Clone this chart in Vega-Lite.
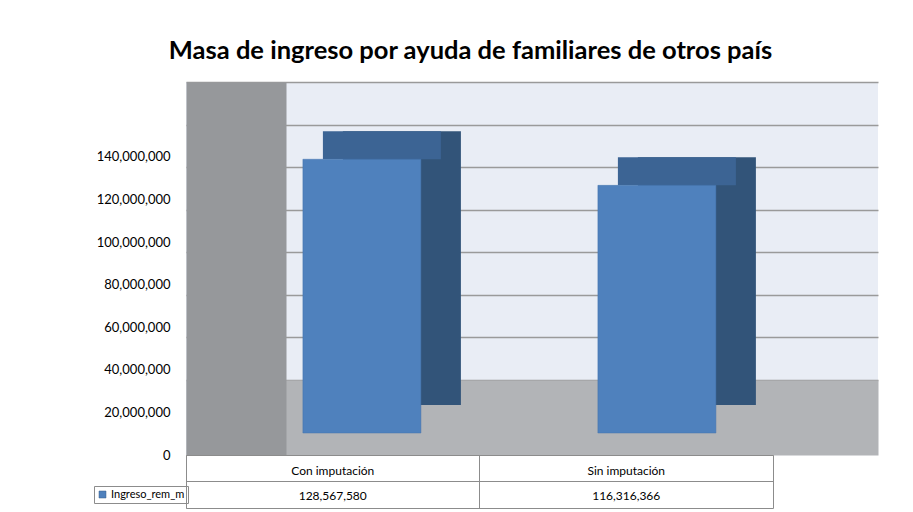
{
  "$schema": "https://vega.github.io/schema/vega-lite/v6.json",
  "padding": {"left": 93, "top": 38, "right": 5, "bottom": 2},
  "background": "white",
  "config": {"font": "Lato", "view": {"stroke": null}},
  "title": {"text": "Masa de ingreso por ayuda de familiares de otros país", "fontSize": 25.5, "font": "Lato", "fontWeight": "bold", "color": "#000000", "anchor": "middle", "dx": -15, "offset": 18},
  "data": {"values": [
    {"cat": "Con imputación", "value": 128567580},
    {"cat": "Sin imputación", "value": 116316366}
  ]},
  "spacing": 0,
  "bounds": "flush",
  "resolve": {"scale": {"x": "independent", "color": "independent"}},
  "vconcat": [
    {
      "width": 692,
      "height": 373,
      "view": {"fill": "#E9EDF5", "stroke": null},
      "encoding": {
        "x": {"field": "cat", "type": "nominal", "sort": null,
          "scale": {"type": "band", "paddingInner": 0.6, "paddingOuter": 0.4729, "align": 0.419},
          "axis": {"labels": false, "ticks": false, "title": null, "grid": false, "domain": true, "domainColor": "#B2B4B7", "domainWidth": 75, "offset": -37.5, "minExtent": 0, "maxExtent": 0, "zindex": 0}}
      },
      "layer": [
        {
          "mark": {"type": "bar", "opacity": 0},
          "encoding": {
            "y": {"field": "value", "type": "quantitative",
              "scale": {"domain": [-35200000, 140000000], "nice": false, "zero": false},
              "axis": {"orient": "right", "title": null, "labels": false, "ticks": false, "domain": false, "grid": true, "gridColor": "#9A9A9A", "gridWidth": 1.5, "values": [0, 20000000, 40000000, 60000000, 80000000, 100000000, 120000000, 140000000], "zindex": 0}}
          }
        },
        {
          "encoding": {
            "y": {"field": "value", "type": "quantitative",
              "scale": {"domain": [0, 175200000], "nice": false},
              "axis": {"orient": "left", "title": null, "format": ",d", "values": [0, 20000000, 40000000, 60000000, 80000000, 100000000, 120000000, 140000000], "ticks": false, "tickSize": 0, "labelPadding": 66, "labelFontSize": 13, "labelColor": "#000000", "labelFont": "Lato", "grid": false, "domain": true, "domainColor": "#96989B", "domainWidth": 100, "offset": -50, "zindex": 1}}
          },
          "layer": [
            {
              "mark": {"type": "bar", "color": "#325479", "xOffset": 40, "yOffset": -50, "y2Offset": -50},
              "encoding": {"y2": {"datum": 0}}
            },
            {
              "mark": {"type": "bar", "color": "#3C6494", "xOffset": 20, "yOffset": -50, "y2Offset": -22},
              "encoding": {"y2": {"field": "value"}}
            },
            {
              "mark": {"type": "bar", "color": "#4F81BD", "stroke": "#4574AD", "strokeWidth": 0.5, "yOffset": -22, "y2Offset": -22},
              "encoding": {"y2": {"datum": 0}}
            }
          ]
        }
      ],
      "resolve": {"scale": {"y": "independent"}}
    },
    {
      "width": 587,
      "height": 53,
      "view": {"stroke": "#8C8C8C", "strokeWidth": 1, "fill": "white"},
      "encoding": {
        "x": {"field": "cat", "type": "nominal", "sort": null,
          "scale": {"type": "band", "paddingInner": 0, "paddingOuter": 0},
          "axis": {"labels": false, "ticks": false, "title": null, "domain": false, "grid": true, "bandPosition": 0, "gridColor": "#8C8C8C", "gridWidth": 1}}
      },
      "layer": [
        {
          "mark": {"type": "text", "fontSize": 12, "font": "Lato", "color": "#000000", "dy": 3},
          "encoding": {
            "y": {"datum": "h", "type": "nominal",
              "scale": {"type": "band", "domain": ["h", "v"], "paddingInner": 0, "paddingOuter": 0},
              "axis": {"labels": false, "ticks": false, "title": null, "domain": false, "grid": true, "bandPosition": 0, "gridColor": "#8C8C8C"}},
            "text": {"field": "cat"}
          }
        },
        {
          "mark": {"type": "text", "fontSize": 12, "font": "Lato", "color": "#000000", "dy": 1},
          "encoding": {
            "y": {"datum": "v", "type": "nominal"},
            "text": {"field": "value", "type": "quantitative", "format": ",d"}
          }
        },
        {
          "mark": {"type": "point", "shape": "square", "filled": true, "opacity": 0},
          "encoding": {
            "y": {"datum": "v", "type": "nominal"},
            "color": {"datum": "Ingreso_rem_m", "type": "nominal",
              "scale": {"range": ["#4F81BD"]},
              "legend": {"orient": "none", "legendX": -92, "legendY": 31, "title": null, "symbolType": "square", "symbolSize": 49, "symbolOpacity": 1, "symbolStrokeColor": "#385D8A", "symbolStrokeWidth": 0.5, "labelFontSize": 11, "labelFont": "Lato", "labelColor": "#000000", "strokeColor": "#8C8C8C", "padding": 3, "labelOffset": 3, "labelLimit": 120}}
          }
        }
      ]
    }
  ]
}
